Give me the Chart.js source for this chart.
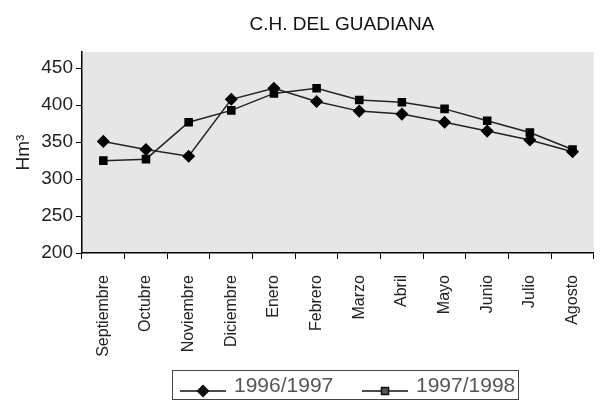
<!DOCTYPE html>
<html>
<head>
<meta charset="utf-8">
<script src="https://cdn.jsdelivr.net/npm/chart.js@4/dist/chart.umd.min.js"></script>
<style>
  body { margin: 0; background: #fff; overflow: hidden; }
  #wrap { width: 601px; height: 403px; overflow: hidden; }
</style>
</head>
<body>
<div id="wrap"><canvas id="chart" width="608" height="403"></canvas></div>
<script>
const TITLE = 'C.H. DEL GUADIANA';
const MONTHS = ['Septiembre', 'Octubre', 'Noviembre', 'Diciembre', 'Enero', 'Febrero',
                'Marzo', 'Abril', 'Mayo', 'Junio', 'Julio', 'Agosto'];
const SERIES_9697 = [351, 340, 331, 408, 423, 405, 392, 388, 377, 365, 353, 337];
const SERIES_9798 = [325, 327, 377, 393, 416, 423, 407, 404, 395, 379, 363, 340];
const Y_TICKS = [200, 250, 300, 350, 400, 450];

const SANS = "'Liberation Sans', Arial, sans-serif";

// grey plot background, title on top, boxed legend underneath
const decor = {
  id: 'decor',
  beforeDraw(chart) {
    const { ctx, chartArea: a } = chart;
    ctx.save();
    ctx.fillStyle = '#e6e6e6';
    ctx.fillRect(a.left, a.top, a.right - a.left, a.bottom - a.top);
    ctx.restore();
  },
  afterDraw(chart) {
    const { ctx, chartArea: a } = chart;
    ctx.save();
    ctx.fillStyle = '#111';
    ctx.font = '19px ' + SANS;
    ctx.textAlign = 'center';
    ctx.textBaseline = 'middle';
    ctx.fillText(TITLE, (a.left + a.right) / 2 + 4, 25);

    // legend box
    ctx.strokeStyle = '#444';
    ctx.lineWidth = 1;
    ctx.strokeRect(172.5, 370.5, 346, 29);
    const starts = [180, 362];
    chart.data.datasets.forEach((ds, i) => {
      const x0 = starts[i], y = 391;
      ctx.strokeStyle = '#111';
      ctx.lineWidth = 1.5;
      ctx.beginPath();
      ctx.moveTo(x0, y);
      ctx.lineTo(x0 + 46, y);
      ctx.stroke();
      Chart.helpers.drawPoint(ctx, {
        pointStyle: ds.pointStyle, radius: ds.pointRadius, borderWidth: 1
      }, x0 + 23, y);
      ctx.fillStyle = '#555';
      ctx.font = '21px ' + SANS;
      ctx.textAlign = 'left';
      ctx.textBaseline = 'middle';
      ctx.fillText(ds.label, x0 + 54, 386);
    });
    ctx.restore();
  }
};

new Chart(document.getElementById('chart'), {
  type: 'line',
  data: {
    labels: MONTHS,
    datasets: [
      {
        label: '1996/1997',
        data: SERIES_9697,
        borderColor: '#222',
        borderWidth: 1.5,
        pointStyle: 'rectRot',
        pointRadius: 5.5,
        backgroundColor: '#000',
        pointBorderColor: '#000',
        tension: 0
      },
      {
        label: '1997/1998',
        data: SERIES_9798,
        borderColor: '#222',
        borderWidth: 1.5,
        pointStyle: 'rect',
        pointRadius: 5,
        backgroundColor: '#000',
        pointBorderColor: '#000',
        tension: 0
      }
    ]
  },
  options: {
    responsive: false,
    animation: false,
    layout: { padding: { top: 52, right: 0, left: 0, bottom: 0 } },
    plugins: {
      legend: { display: false },
      title: { display: false },
      tooltip: { enabled: false }
    },
    scales: {
      x: {
        offset: true,
        grid: { offset: true, drawOnChartArea: false, tickLength: 6, color: '#000' },
        border: { color: '#000', width: 1.5 },
        ticks: {
          minRotation: 90, maxRotation: 90, autoSkip: false,
          color: '#222', padding: 16,
          font: { family: SANS, size: 16 }
        },
        afterFit(s) { s.height = 150; }
      },
      y: {
        min: 200, max: 472,
        grid: { drawOnChartArea: false, tickLength: 6, color: '#000' },
        border: { color: '#000', width: 1.5 },
        ticks: {
          stepSize: 50, color: '#222', padding: 3,
          font: { family: SANS, size: 19 }
        },
        afterBuildTicks(axis) { axis.ticks = Y_TICKS.map(v => ({ value: v })); },
        title: {
          display: true, text: 'Hm³', color: '#222',
          font: { family: SANS, size: 19 },
          padding: { top: 12, bottom: 0 }
        },
        afterFit(s) { s.width = 82; }
      }
    }
  },
  plugins: [decor]
});
</script>
</body>
</html>
